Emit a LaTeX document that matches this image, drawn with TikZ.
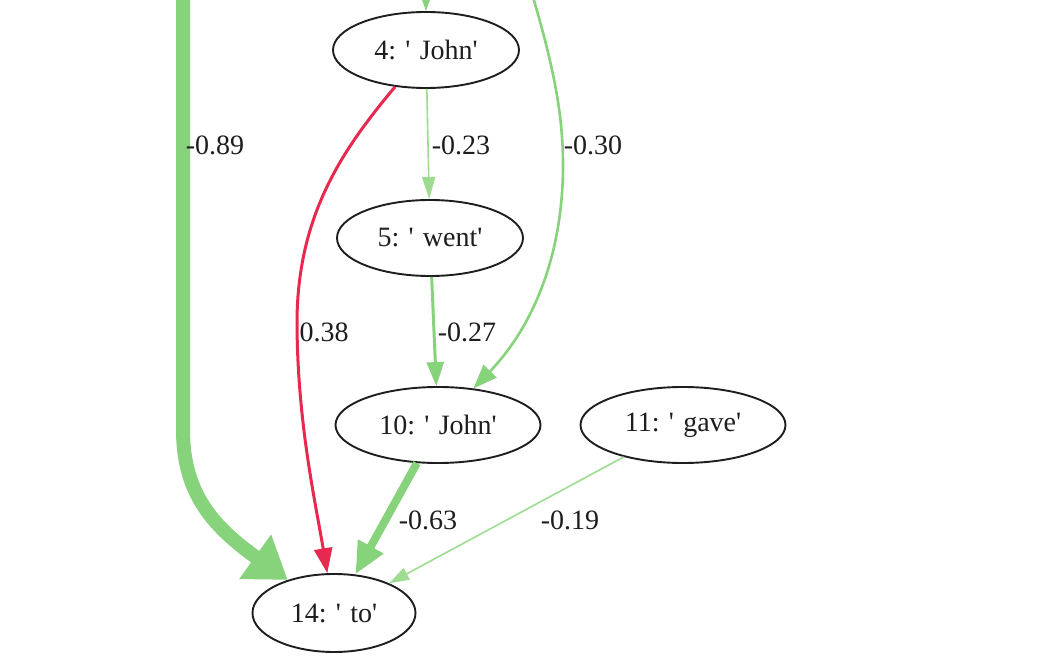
\documentclass[tikz,border=0pt]{standalone}
\usepackage{fontspec}
\setmainfont{Liberation Serif}[Ligatures=TeXOff]
\usetikzlibrary{arrows.meta,shapes.geometric}
\definecolor{gv}{HTML}{87D37C}
\definecolor{gvl}{HTML}{9EDC92}
\definecolor{gr}{HTML}{E8294F}
\definecolor{ink}{HTML}{1E1E1E}
\tikzset{
  tok/.style={ellipse, draw=ink, line width=1.9pt, inner sep=0pt, text=ink,
    font=\fontsize{28}{33}\selectfont},
  wlab/.style={text=ink, font=\fontsize{28}{33}\selectfont, inner sep=0pt},
}
\begin{document}
\begin{tikzpicture}[x=1pt,y=-1pt]
\clip (0,0) rectangle (1053,663);
\fill[white] (0,0) rectangle (1053,663);
% nodes
\node[tok, minimum width=186pt, minimum height=76pt] (n4) at (426,50) {4: ' John'};
\node[tok, minimum width=186pt, minimum height=76pt] (n5) at (430,238) {5: ' went'};
\node[tok, minimum width=205pt, minimum height=76pt] (n10) at (438,425) {10: ' John'};
\node[tok, minimum width=205pt, minimum height=76pt] (n11) at (683,425) {11: ' gave'};
\node[tok, minimum width=163pt, minimum height=78pt] (n14) at (334,613) {14: ' to'};
\coordinate (t1) at (183,-20);
\coordinate (t2) at (426,-40);
\coordinate (t3) at (528,-20);
% edges
\draw[draw=gv, line width=14pt, -{Triangle[length=40pt,width=52pt]}]
  (t1) -- (183,430) .. controls (183,495) and (215,528) .. (n14);
\draw[draw=gv, line width=2.2pt, -{Triangle[length=22pt,width=15pt]}] (t2) -- (n4);
\draw[draw=gvl, line width=1.6pt, -{Triangle[length=22pt,width=13pt]}] (n4) -- (n5);
\draw[draw=gr, line width=3pt, -{Triangle[length=25pt,width=18pt]}]
  (n4) .. controls (342,150) and (298,215) .. (297,320)
  .. controls (297,420) and (315,500) .. (n14);
\draw[draw=gv, line width=2.6pt, -{Triangle[length=24pt,width=18pt]}]
  (t3) .. controls (552,60) and (563,110) .. (563,165)
  .. controls (563,260) and (530,330) .. (n10);
\draw[draw=gv, line width=3pt, -{Triangle[length=24pt,width=17pt]}] (n5) -- (n10);
\draw[draw=gv, line width=8pt, -{Triangle[length=32pt,width=27pt]}] (n10) -- (n14);
\draw[draw=gvl, line width=1.6pt, -{Triangle[length=20pt,width=13pt]}] (n11) -- (n14);
% labels
\node[wlab] (l89) at (215,145) {-0.89};
\node[wlab] (l23) at (461,145) {-0.23};
\node[wlab] (l30) at (593,145) {-0.30};
\node[wlab] (l38) at (324,332) {0.38};
\node[wlab] (l27) at (467,332) {-0.27};
\node[wlab] (l63) at (428,520) {-0.63};
\node[wlab] (l19) at (570,520) {-0.19};
\end{tikzpicture}
\end{document}
